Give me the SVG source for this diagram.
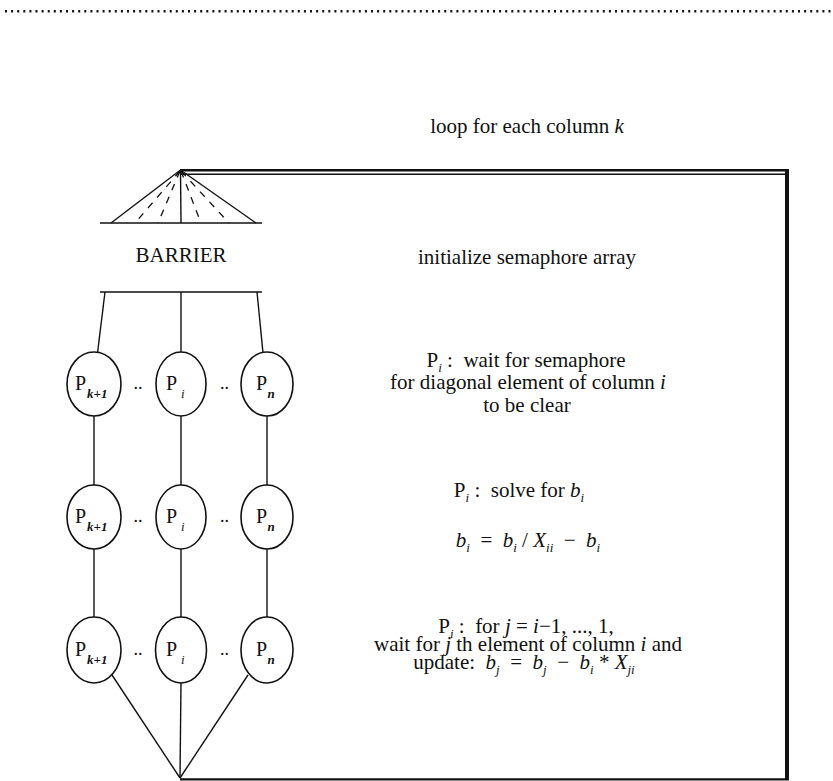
<svg xmlns="http://www.w3.org/2000/svg" width="833" height="781" viewBox="0 0 833 781">
<style>
text{font-family:"Liberation Serif","Times New Roman","DejaVu Serif",serif;fill:#111;}
.lbl{font-size:21px;}
.p{font-size:20px;}
.sub{font-size:13px;font-style:italic;font-weight:bold;}
.si{font-size:13px;font-style:italic;}
.it{font-style:italic;}
.dots{font-size:18px;}
.ln{stroke:#111;stroke-width:1.4;fill:none;}
.el{stroke:#111;stroke-width:1.6;fill:#fff;}
</style>
<line x1="5" y1="11.3" x2="833" y2="11.3" stroke="#111" stroke-width="2.6" stroke-dasharray="2 4.1"/>
<g id="loop">
<line x1="180" y1="170.3" x2="789" y2="170.3" stroke="#111" stroke-width="2.6"/>
<line x1="180" y1="174.2" x2="787" y2="174.2" stroke="#111" stroke-width="1.4"/>
<line x1="787" y1="169" x2="787" y2="780" stroke="#111" stroke-width="4"/>
<line x1="180" y1="779.3" x2="789" y2="779.3" stroke="#111" stroke-width="2.2"/>
</g>
<g id="barrier">
<line x1="100" y1="223" x2="262" y2="223" class="ln"/>
<line x1="111" y1="223" x2="180.5" y2="170" class="ln"/>
<line x1="256" y1="223" x2="180.5" y2="170" class="ln"/>
<line x1="181" y1="223" x2="180.5" y2="170" class="ln"/>
<g stroke="#111" stroke-width="1.3" stroke-dasharray="7 7">
<line x1="180" y1="171" x2="135" y2="223"/>
<line x1="180" y1="171" x2="158" y2="223"/>
<line x1="181" y1="171" x2="201" y2="223"/>
<line x1="181" y1="171" x2="229" y2="223"/>
</g>
<text x="181" y="262" class="lbl" text-anchor="middle">BARRIER</text>
</g>
<g id="connectors">
<line x1="100" y1="292" x2="262" y2="292" class="ln"/>
<line x1="105" y1="292" x2="97.5" y2="353" class="ln"/>
<line x1="181" y1="292" x2="181" y2="352" class="ln"/>
<line x1="257" y1="292" x2="263" y2="353" class="ln"/>
<line x1="94" y1="416" x2="94" y2="485" class="ln"/>
<line x1="181" y1="416" x2="181" y2="485" class="ln"/>
<line x1="267" y1="416" x2="267" y2="485" class="ln"/>
<line x1="94" y1="549" x2="94" y2="618" class="ln"/>
<line x1="181" y1="549" x2="181" y2="618" class="ln"/>
<line x1="267" y1="549" x2="267" y2="618" class="ln"/>
<line x1="112" y1="675" x2="180" y2="778" class="ln"/>
<line x1="181" y1="682" x2="180" y2="778" class="ln"/>
<line x1="248" y1="675" x2="180" y2="778" class="ln"/>
</g>
<g id="row1">
<ellipse cx="94" cy="384" rx="27" ry="32" class="el"/>
<text x="75" y="390" class="p">P<tspan class="sub" x="87" dy="8">k+1</tspan></text>
<text x="138" y="389" class="dots" text-anchor="middle">..</text>
<ellipse cx="181" cy="384" rx="25" ry="32" class="el"/>
<text x="166" y="390" class="p">P<tspan class="si" x="181" dy="8">i</tspan></text>
<text x="224.5" y="389" class="dots" text-anchor="middle">..</text>
<ellipse cx="267" cy="384" rx="26" ry="32" class="el"/>
<text x="256" y="390" class="p">P<tspan class="sub" x="267.5" dy="8">n</tspan></text>
</g>
<g id="row2">
<ellipse cx="94" cy="517" rx="27" ry="32" class="el"/>
<text x="75" y="523" class="p">P<tspan class="sub" x="87" dy="8">k+1</tspan></text>
<text x="138" y="522" class="dots" text-anchor="middle">..</text>
<ellipse cx="181" cy="517" rx="25" ry="32" class="el"/>
<text x="166" y="523" class="p">P<tspan class="si" x="181" dy="8">i</tspan></text>
<text x="224.5" y="522" class="dots" text-anchor="middle">..</text>
<ellipse cx="267" cy="517" rx="26" ry="32" class="el"/>
<text x="256" y="523" class="p">P<tspan class="sub" x="267.5" dy="8">n</tspan></text>
</g>
<g id="row3">
<ellipse cx="94" cy="650" rx="27" ry="33" class="el"/>
<text x="75" y="656" class="p">P<tspan class="sub" x="87" dy="8">k+1</tspan></text>
<text x="138" y="655" class="dots" text-anchor="middle">..</text>
<ellipse cx="181" cy="650" rx="25.5" ry="33" class="el"/>
<text x="166" y="656" class="p">P<tspan class="si" x="181" dy="8">i</tspan></text>
<text x="224.5" y="655" class="dots" text-anchor="middle">..</text>
<ellipse cx="267" cy="650" rx="26" ry="33" class="el"/>
<text x="256" y="656" class="p">P<tspan class="sub" x="267.5" dy="8">n</tspan></text>
</g>
<g id="labels">
<text x="527" y="133" class="lbl" text-anchor="middle">loop for each column <tspan class="it">k</tspan></text>
<text x="527" y="264" class="lbl" text-anchor="middle">initialize semaphore array</text>
<text x="526" y="367" class="lbl" text-anchor="middle">P<tspan class="si" dy="5">i</tspan><tspan dy="-5"> :&#160; wait for semaphore</tspan></text>
<text x="528" y="389" class="lbl" text-anchor="middle">for diagonal element of column <tspan class="it">i</tspan></text>
<text x="527" y="412" class="lbl" text-anchor="middle">to be clear</text>
<text x="519" y="497" class="lbl" text-anchor="middle">P<tspan class="si" dy="5">i</tspan><tspan dy="-5"> :&#160; solve for </tspan><tspan class="it">b</tspan><tspan class="si" dy="5">i</tspan></text>
<text x="528" y="547" class="lbl" text-anchor="middle"><tspan class="it">b</tspan><tspan class="si" dy="5">i</tspan><tspan dy="-5">&#160; = &#160;</tspan><tspan class="it">b</tspan><tspan class="si" dy="5">i</tspan><tspan dy="-5"> / </tspan><tspan class="it">X</tspan><tspan class="si" dy="5">ii</tspan><tspan dy="-5">&#160; − &#160;</tspan><tspan class="it">b</tspan><tspan class="si" dy="5">i</tspan></text>
<text x="526" y="633" class="lbl" text-anchor="middle">P<tspan class="si" dy="5">i</tspan><tspan dy="-5"> :&#160; for </tspan><tspan class="it">j</tspan><tspan> = </tspan><tspan class="it">i</tspan><tspan>−1, ..., 1,</tspan></text>
<text x="528" y="651" class="lbl" text-anchor="middle">wait for <tspan class="it">j</tspan> th element of column <tspan class="it">i</tspan> and</text>
<text x="524" y="669" class="lbl" text-anchor="middle">update:&#160; <tspan class="it">b</tspan><tspan class="si" dy="5">j</tspan><tspan dy="-5">&#160; = &#160;</tspan><tspan class="it">b</tspan><tspan class="si" dy="5">j</tspan><tspan dy="-5">&#160; − &#160;</tspan><tspan class="it">b</tspan><tspan class="si" dy="5">i</tspan><tspan dy="-5"> * </tspan><tspan class="it">X</tspan><tspan class="si" dy="5">ji</tspan></text>
</g>
</svg>
